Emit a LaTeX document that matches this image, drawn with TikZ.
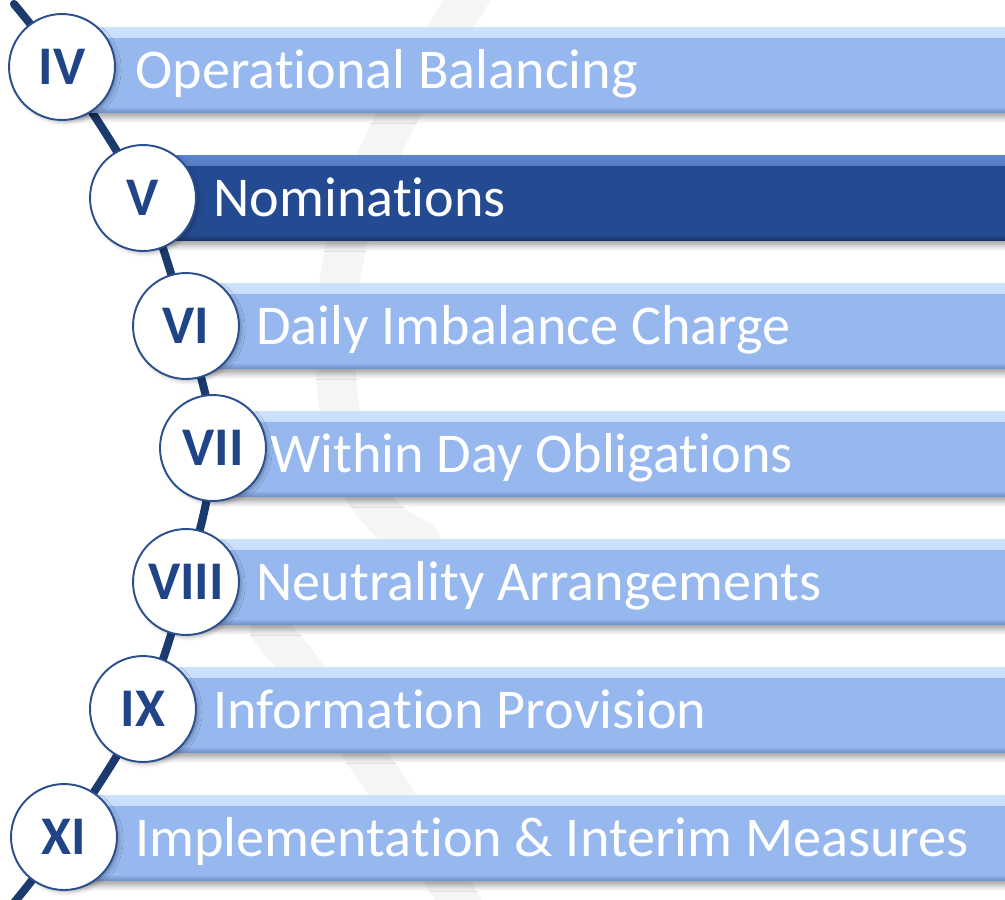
\documentclass[tikz,border=0pt]{standalone}
\usepackage{fontspec}
\setmainfont{Carlito}[Ligatures={NoCommon}]
\usetikzlibrary{shadows.blur}

\definecolor{barmain}{HTML}{96B8EE}
\definecolor{barhi}{HTML}{CFE2FC}
\definecolor{barlo}{HTML}{7191C8}
\definecolor{darkmain}{HTML}{244B91}
\definecolor{darkhi}{HTML}{5B84CC}
\definecolor{darklo}{HTML}{1A3668}
\definecolor{spinecol}{HTML}{1B3A6E}
\definecolor{ringcol}{HTML}{2B4F8F}
\definecolor{numcol}{HTML}{1F4588}
\definecolor{wmcol}{HTML}{F5F5F5}

\tikzset{
	spine/.style={draw=spinecol, line width=4.6pt, line cap=round},
	watermark/.style={draw=wmcol, line width=0.8cm, line cap=round},
	barbox/.style={rectangle, anchor=west, inner sep=0pt, minimum height=1.7cm, minimum width=20cm,
		blur shadow={shadow xshift=0pt, shadow yshift=-3pt, shadow blur radius=3pt, shadow opacity=35}},
	lightbar/.style={barbox, fill=barmain,
		path picture={
			\fill[top color=barhi, bottom color=barmain] (path picture bounding box.north west) rectangle ([yshift=-0.2cm]path picture bounding box.north east);
			\fill[top color=barmain, bottom color=barlo] ([yshift=0.12cm]path picture bounding box.south west) rectangle (path picture bounding box.south east);
		}},
	darkbar/.style={barbox, fill=darkmain,
		path picture={
			\fill[top color=darkhi, bottom color=darkmain] (path picture bounding box.north west) rectangle ([yshift=-0.2cm]path picture bounding box.north east);
			\fill[top color=darkmain, bottom color=darklo] ([yshift=0.12cm]path picture bounding box.south west) rectangle (path picture bounding box.south east);
		}},
	barlabel/.style={anchor=base west, inner sep=0pt, text=white, font=\fontsize{32}{38}\selectfont},
	numdisc/.style={circle, draw=ringcol, line width=1.1pt, fill=white, minimum size=2.12cm, inner sep=0pt,
		text=numcol, font=\fontsize{31}{37}\selectfont\bfseries,
		blur shadow={shadow xshift=1.5pt, shadow yshift=-1.5pt, shadow blur radius=2pt, shadow opacity=25}}
}

\begin{document}
\begin{tikzpicture}[x=0.02cm, y=-0.02cm]
	\useasboundingbox (0,0) rectangle (1005,900);
	\clip (0,0) rectangle (1005,900);

	% faint logo in the background
	\draw[watermark] (480,-20) .. controls (390,120) and (330,220) .. (335,360) .. controls (340,470) and (370,520) .. (420,540);
	\draw[watermark] (270,630) .. controls (330,700) and (400,800) .. (470,920);

	% disc centres along the curve
	\coordinate (top) at (14,4);
	\coordinate (c4) at (62,67);
	\coordinate (c5) at (143,198);
	\coordinate (c6) at (186,326);
	\coordinate (c7) at (213,448);
	\coordinate (c8) at (186,582);
	\coordinate (c9) at (143,709);
	\coordinate (c11) at (64,837);
	\coordinate (bot) at (8,910);
	\draw[spine] plot[smooth, tension=0.55] coordinates {(top) (c4) (c5) (c6) (c7) (c8) (c9) (c11) (bot)};

	% bars
	\node[lightbar] (bar4) at (62,70) {};
	\node[darkbar] (bar5) at (143,198) {};
	\node[lightbar] (bar6) at (186,326) {};
	\node[lightbar] (bar7) at (213,454) {};
	\node[lightbar] (bar8) at (186,582) {};
	\node[lightbar] (bar9) at (143,710) {};
	\node[lightbar] (bar11) at (64,838) {};

	% bar texts
	\node[barlabel] (txt4) at (135,88) {Operational Balancing};
	\node[barlabel] (txt5) at (213,216) {Nominations};
	\node[barlabel] (txt6) at (256,344) {Daily Imbalance Charge};
	\node[barlabel] (txt7) at (270,472) {Within Day Obligations};
	\node[barlabel] (txt8) at (256,600) {Neutrality Arrangements};
	\node[barlabel] (txt9) at (213,728) {Information Provision};
	\node[barlabel] (txt11) at (135,856) {Implementation \& Interim Measures};

	% numbered discs
	\node[numdisc] (num4) at (c4) {IV};
	\node[numdisc] (num5) at (c5) {V};
	\node[numdisc] (num6) at (c6) {VI};
	\node[numdisc] (num7) at (c7) {VII};
	\node[numdisc] (num8) at (c8) {VIII};
	\node[numdisc] (num9) at (c9) {IX};
	\node[numdisc] (num11) at (c11) {XI};
\end{tikzpicture}
\end{document}
